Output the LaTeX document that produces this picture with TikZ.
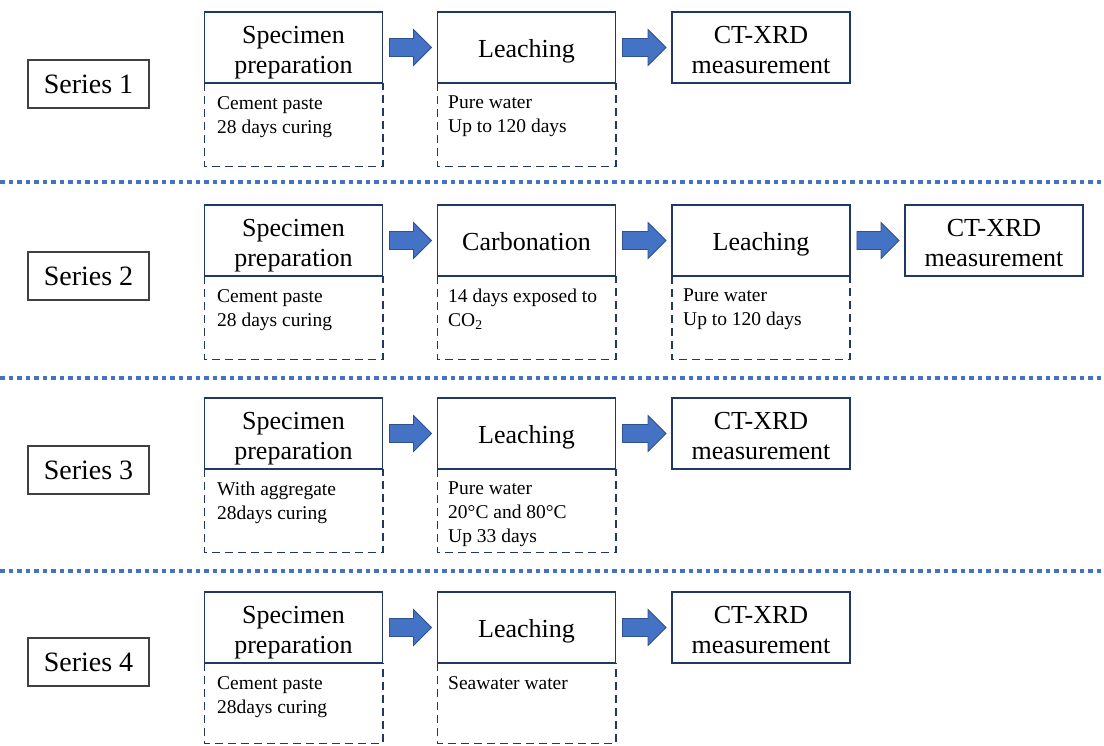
\documentclass[tikz,border=0pt]{standalone}
\usepackage{fontspec}
\setmainfont{Liberation Serif}
\usetikzlibrary{calc}
\definecolor{navy}{HTML}{1F3864}
\definecolor{blu}{HTML}{4472C4}
\definecolor{bluline}{HTML}{2F528F}
\definecolor{sgray}{HTML}{404040}
\newcommand\blockarrow[2]{%
  \filldraw[flow] let \p1=([xshift=6pt]#1.east), \p2=([xshift=-5pt]#2.west) in
    (\x1,\y1+9pt) -- (\x2-18pt,\y1+9pt) -- (\x2-18pt,\y1+18pt) -- (\x2,\y1)
    -- (\x2-18pt,\y1-18pt) -- (\x2-18pt,\y1-9pt) -- (\x1,\y1-9pt) -- cycle;}
% dashed note box: open at the top (it hangs below the title box)
\newcommand\notebox[3][83pt]{%
  \node[noteframe, minimum height=#1] (#2) at (#3) {};
  \draw[dashline] (#2.north west) -- (#2.south west) -- (#2.south east) -- (#2.north east);}
\begin{document}
\begin{tikzpicture}[x=1pt,y=-1pt,
  titlebox/.style={draw=navy, line width=1.9pt, minimum width=178pt, minimum height=71pt,
    inner sep=0pt, align=center, font=\fontsize{26}{30}\selectfont, fill=white},
  titleone/.style={titlebox, text height=24pt, text depth=5pt},
  titletwo/.style={titlebox, text height=56pt, text depth=5pt},
  noteframe/.style={minimum width=178pt, inner sep=0pt, anchor=north},
  dashline/.style={draw=navy, line width=1.6pt, dash pattern=on 8pt off 5pt},
  notetext/.style={anchor=north west, inner sep=0pt, align=left,
    font=\fontsize{19.5}{24}\selectfont},
  seriesbox/.style={draw=sgray, line width=1.2pt, minimum width=121pt, minimum height=48pt,
    inner sep=0pt, font=\fontsize{28}{32}\selectfont},
  flow/.style={fill=blu, draw=bluline, line width=0.8pt},
  sep/.style={blu, line width=4pt, dash pattern=on 4.5pt off 4pt}
]
\useasboundingbox (0,0) rectangle (1104,745);

% separators
\draw[sep] (0,182) -- (1104,182);
\draw[sep] (0,378) -- (1104,378);
\draw[sep] (0,571) -- (1104,571);

% ---------- Series 1 ----------
\node[seriesbox] (ser1) at (88.5,84) {Series 1};
\notebox{n1a}{293.5,83}
\notebox{n1b}{526.5,83}
\node[titletwo] (t1a) at (293.5,47.5) {Specimen\\preparation};
\node[titleone] (t1b) at (526.5,47.5) {Leaching};
\node[titletwo] (t1c) at (761,47.5) {CT-XRD\\measurement};
\node[notetext] (x1a) at (217,96) {Cement paste\\28 days curing};
\node[notetext] (x1b) at (448,96) {Pure water\\Up to 120 days};
\blockarrow{t1a}{t1b}
\blockarrow{t1b}{t1c}

% ---------- Series 2 ----------
\node[seriesbox] (ser2) at (88.5,276) {Series 2};
\notebox{n2a}{293.5,276}
\notebox{n2b}{526.5,276}
\notebox{n2c}{761,276}
\node[titletwo] (t2a) at (293.5,240.5) {Specimen\\preparation};
\node[titleone] (t2b) at (526.5,240.5) {Carbonation};
\node[titleone] (t2c) at (761,240.5) {Leaching};
\node[titletwo] (t2d) at (994,240.5) {CT-XRD\\measurement};
\node[notetext] (x2a) at (217,289) {Cement paste\\28 days curing};
\node[notetext] (x2b) at (448,289) {14 days exposed to\\CO\textsubscript{2}};
\node[notetext] (x2c) at (683,289) {Pure water\\Up to 120 days};
\blockarrow{t2a}{t2b}
\blockarrow{t2b}{t2c}
\blockarrow{t2c}{t2d}

% ---------- Series 3 ----------
\node[seriesbox] (ser3) at (88.5,470) {Series 3};
\notebox{n3a}{293.5,469}
\notebox{n3b}{526.5,469}
\node[titletwo] (t3a) at (293.5,433.5) {Specimen\\preparation};
\node[titleone] (t3b) at (526.5,433.5) {Leaching};
\node[titletwo] (t3c) at (761,433.5) {CT-XRD\\measurement};
\node[notetext] (x3a) at (217,482) {With aggregate\\28days curing};
\node[notetext] (x3b) at (448,482) {Pure water\\20°C and 80°C\\Up 33 days};
\blockarrow{t3a}{t3b}
\blockarrow{t3b}{t3c}

% ---------- Series 4 ----------
\node[seriesbox] (ser4) at (88.5,662) {Series 4};
\notebox[80pt]{n4a}{293.5,663}
\notebox[80pt]{n4b}{526.5,663}
\node[titletwo] (t4a) at (293.5,627.5) {Specimen\\preparation};
\node[titleone] (t4b) at (526.5,627.5) {Leaching};
\node[titletwo] (t4c) at (761,627.5) {CT-XRD\\measurement};
\node[notetext] (x4a) at (217,676) {Cement paste\\28days curing};
\node[notetext] (x4b) at (448,676) {Seawater water};
\blockarrow{t4a}{t4b}
\blockarrow{t4b}{t4c}
\end{tikzpicture}
\end{document}
